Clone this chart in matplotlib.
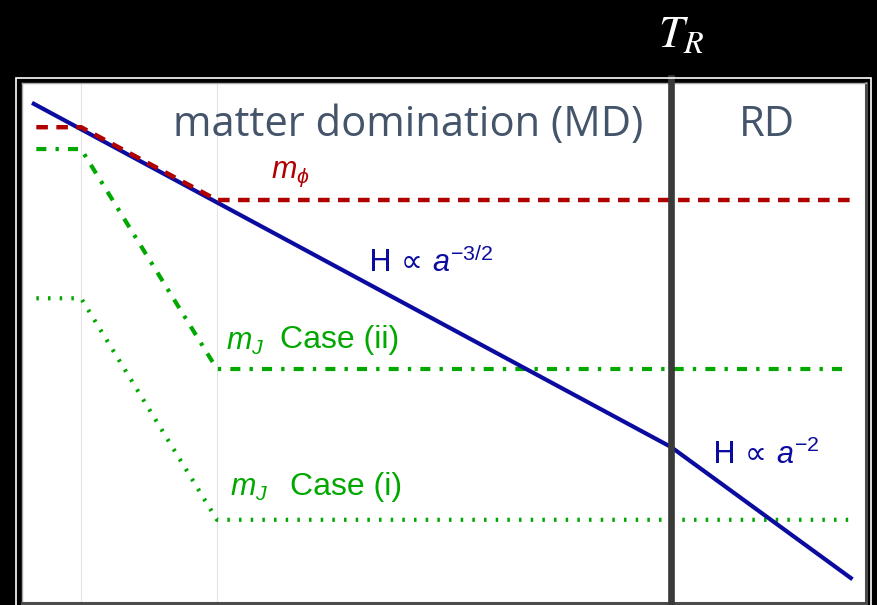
import matplotlib
matplotlib.use("Agg")
import matplotlib.pyplot as plt
from matplotlib.patches import Rectangle

# -----------------------------
# DATA (arbitrary log-scale units, x = ln a, y = ln of rate)
# -----------------------------
h_x = [1.4, 76.9, 98.2]
h_y = [96.0, 30.0, 4.8]

mphi_x = [1.7, 7.0, 23.1, 98.2]
mphi_y = [91.5, 91.5, 77.5, 77.5]

mj2_x = [1.7, 7.0, 23.1, 98.2]
mj2_y = [87.3, 87.3, 45.0, 45.0]

mj1_x = [1.7, 7.0, 23.1, 98.2]
mj1_y = [58.6, 58.6, 16.0, 16.0]

grid_x = [7.0, 23.1]
t_reh = 76.9

BLUE = "#0b0ba0"
RED = "#b00000"
GREEN = "#00a800"
SLATE = "#44546a"

plt.rcParams["mathtext.fontset"] = "custom"
plt.rcParams["mathtext.rm"] = "Liberation Sans"
plt.rcParams["mathtext.it"] = "Liberation Sans:italic"
plt.rcParams["font.family"] = ["Liberation Sans", "DejaVu Sans"]

fig = plt.figure(figsize=(8.78, 6.05), dpi=100, facecolor="black")
ax = fig.add_axes([22 / 878, 2 / 605, 844 / 878, 520 / 605])
ax.set_facecolor("white")
ax.set_xlim(0, 100)
ax.set_ylim(0, 100)
ax.set_xticks([])
ax.set_yticks([])

for s in ["left", "top"]:
    ax.spines[s].set_color("#a8a8a8")
    ax.spines[s].set_linewidth(1.0)
for s in ["right", "bottom"]:
    ax.spines[s].set_color("#4a4a4a")
    ax.spines[s].set_linewidth(2.2)

# outer white frame
fig.patches.append(Rectangle(
    (16.5 / 878, -0.05), 855 / 878, (605 - 77.5) / 605 + 0.05,
    transform=fig.transFigure, fill=False, edgecolor="white", linewidth=1.2
))

for gx in grid_x:
    ax.axvline(gx, color="#e4e4e4", linewidth=0.8, zorder=0)

ax.plot(mj1_x, mj1_y, color=GREEN, linewidth=3, linestyle=(0, (0.6, 2.2)), zorder=2)
ax.plot(mj2_x, mj2_y, color=GREEN, linewidth=3,
        linestyle=(0, (2.4, 2.2, 0.8, 2.2)), zorder=2)
ax.plot(h_x, h_y, color=BLUE, linewidth=3, zorder=3)
ax.plot(mphi_x, mphi_y, color=RED, linewidth=3.2, linestyle=(0, (2.6, 1.9)), zorder=4)

ax.axvline(t_reh, ymin=0, ymax=1.01, color="#3a3a3a", linewidth=4.8,
           clip_on=False, zorder=5)

# labels
ax.text(45.8, 92.0, "matter domination (MD)", color=SLATE, fontsize=30,
        family="Open Sans", ha="center", va="center")
ax.text(88.3, 92.0, "RD", color=SLATE, fontsize=30,
        family="Open Sans", ha="center", va="center")
fig.text(681 / 878, 1 - 35 / 605, r"$T_R$", color="white", fontsize=33,
         math_fontfamily="stix", ha="center", va="center")

ax.text(31.8, 82.5, r"$m_\phi$", color=RED, fontsize=22, ha="center", va="center")
ax.text(48.4, 65.6, "H ∝ $a^{-3/2}$", color=BLUE, fontsize=22,
        family="DejaVu Sans", ha="center", va="center")
ax.text(81.8, 28.5, "H ∝ $a^{-2}$", color=BLUE, fontsize=22,
        family="DejaVu Sans", ha="left", va="center")

ax.text(24.2, 50.2, r"$m_J$", color=GREEN, fontsize=22, ha="left", va="center")
ax.text(30.6, 50.5, "Case (ii)", color=GREEN, fontsize=23, ha="left", va="center")
ax.text(24.6, 22.1, r"$m_J$", color=GREEN, fontsize=22, ha="left", va="center")
ax.text(31.8, 22.4, "Case (i)", color=GREEN, fontsize=23, ha="left", va="center")

fig.savefig("out.png", dpi=100, facecolor="black")
